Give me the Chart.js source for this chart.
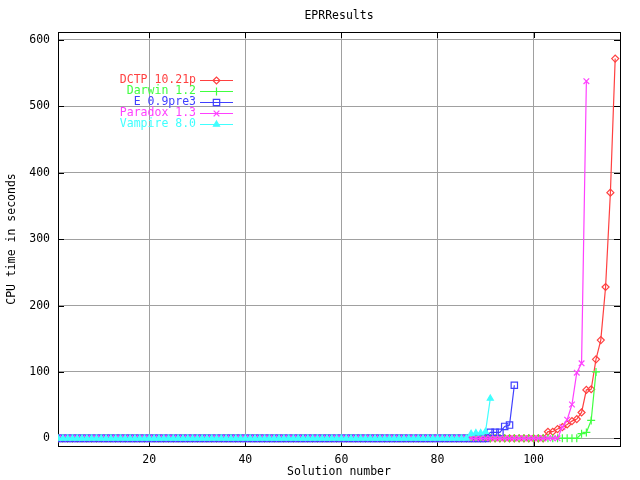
<!DOCTYPE html>
<html>
<head>
<meta charset="utf-8">
<title>EPRResults</title>
<script src="https://cdn.jsdelivr.net/npm/chart.js"></script>
<style>
  html, body { margin: 0; padding: 0; background: #fff; }
  #wrap { width: 640px; height: 480px; }
</style>
</head>
<body>
<div id="wrap"><canvas id="chart" width="640" height="480"></canvas></div>
<script>
// CPU time (s) per solution number, sorted; solution n is at index n-1
const dctpTimes = [
  0,0,0,0,0,0,0,0,0,0, 0,0,0,0,0,0,0,0,0,0,
  0,0,0,0,0,0,0,0,0,0, 0,0,0,0,0,0,0,0,0,0,
  0,0,0,0,0,0,0,0,0,0, 0,0,0,0,0,0,0,0,0,0,
  0,0,0,0,0,0,0,0,0,0, 0,0,0,0,0,0,0,0,0,0,
  0,0,0,0,0,0,0,0,0,0, 0,0,0,0,0,0,0,0,0,0,
  0,0,
  10, 10, 14, 17, 21, 26, 29, 39, 73, 74, 119, 148, 228, 370, 572
];
const darwinTimes = [
  0,0,0,0,0,0,0,0,0,0, 0,0,0,0,0,0,0,0,0,0,
  0,0,0,0,0,0,0,0,0,0, 0,0,0,0,0,0,0,0,0,0,
  0,0,0,0,0,0,0,0,0,0, 0,0,0,0,0,0,0,0,0,0,
  0,0,0,0,0,0,0,0,0,0, 0,0,0,0,0,0,0,0,0,0,
  0,0,0,0,0,0,0,0,0,0, 0,0,0,0,0,0,0,0,0,0,
  0,0,0,0,0,0,0,0,0,
  7, 9, 27, 100
];
const eTimes = [
  0,0,0,0,0,0,0,0,0,0, 0,0,0,0,0,0,0,0,0,0,
  0,0,0,0,0,0,0,0,0,0, 0,0,0,0,0,0,0,0,0,0,
  0,0,0,0,0,0,0,0,0,0, 0,0,0,0,0,0,0,0,0,0,
  0,0,0,0,0,0,0,0,0,0, 0,0,0,0,0,0,0,0,0,0,
  0,0,0,0,0,0,0,0,0,0,
  9, 9, 9, 18, 20, 80
];
const paradoxTimes = [
  0,0,0,0,0,0,0,0,0,0, 0,0,0,0,0,0,0,0,0,0,
  0,0,0,0,0,0,0,0,0,0, 0,0,0,0,0,0,0,0,0,0,
  0,0,0,0,0,0,0,0,0,0, 0,0,0,0,0,0,0,0,0,0,
  0,0,0,0,0,0,0,0,0,0, 0,0,0,0,0,0,0,0,0,0,
  0,0,0,0,0,0,0,0,0,0, 0,0,0,0,0,0,0,0,0,0,
  0,0,0,0,0,
  17, 28, 51, 99, 113, 538
];
const vampireTimes = [
  0,0,0,0,0,0,0,0,0,0, 0,0,0,0,0,0,0,0,0,0,
  0,0,0,0,0,0,0,0,0,0, 0,0,0,0,0,0,0,0,0,0,
  0,0,0,0,0,0,0,0,0,0, 0,0,0,0,0,0,0,0,0,0,
  0,0,0,0,0,0,0,0,0,0, 0,0,0,0,0,0,0,0,0,0,
  0,0,0,0,0,0,
  7, 8, 8, 10, 60
];

const solverNames = ["DCTP 10.21p", "Darwin 1.2", "E 0.9pre3", "Paradox 1.3", "Vampire 8.0"];
const solverTimes = [dctpTimes, darwinTimes, eTimes, paradoxTimes, vampireTimes];
const solverColors = ["#ff4040", "#40ff40", "#4040ff", "#ff40ff", "#40ffff"];
const solverMarkers = ["rectRot", "cross", "rect", "crossRot", "triangle"];
const markerSizes = [3.5, 4, 4.5, 4, 3.5];
const markerFills = ["rgba(0,0,0,0)", "rgba(0,0,0,0)", "rgba(0,0,0,0)", "rgba(0,0,0,0)", "#40ffff"];

const xTicks = [20, 40, 60, 80, 100];
const yTicks = [0, 100, 200, 300, 400, 500, 600];

const monoFont = { family: "'DejaVu Sans Mono', monospace", size: 11.5 };

const datasets = solverNames.map((name, i) => ({
  label: name,
  data: solverTimes[i].map((t, k) => ({ x: k + 1, y: t })),
  borderColor: solverColors[i],
  backgroundColor: markerFills[i],
  borderWidth: 1.2,
  pointStyle: solverMarkers[i],
  pointRadius: markerSizes[i],
  pointBorderWidth: 1.2,
  pointBorderColor: solverColors[i],
  pointBackgroundColor: markerFills[i],
  tension: 0,
  order: solverNames.length - i
}));

// gnuplot style box with mirrored inward ticks
const framePlugin = {
  id: "frame",
  beforeDatasetsDraw(chart) {
    const { ctx, chartArea: a, scales } = chart;
    ctx.save();
    ctx.strokeStyle = "#000";
    ctx.lineWidth = 1;
    ctx.beginPath();
    yTicks.forEach(v => {
      const py = Math.round(scales.y.getPixelForValue(v)) + 0.5;
      ctx.moveTo(a.left, py); ctx.lineTo(a.left + 6, py);
      ctx.moveTo(a.right, py); ctx.lineTo(a.right - 6, py);
    });
    xTicks.forEach(v => {
      const px = Math.round(scales.x.getPixelForValue(v)) + 0.5;
      ctx.moveTo(px, a.bottom); ctx.lineTo(px, a.bottom - 6);
      ctx.moveTo(px, a.top); ctx.lineTo(px, a.top + 6);
    });
    ctx.stroke();
    ctx.strokeRect(Math.round(a.left) + 0.5, Math.round(a.top) + 0.5,
      Math.round(a.right - a.left), Math.round(a.bottom - a.top));
    ctx.restore();
  }
};

// key inside the plot: right-aligned label, then a line sample with its marker
const keyPlugin = {
  id: "key",
  afterDraw(chart) {
    const { ctx, chartArea: a } = chart;
    ctx.save();
    ctx.font = monoFont.size + "px " + monoFont.family;
    ctx.textAlign = "right";
    ctx.textBaseline = "middle";
    chart.data.datasets.forEach((ds, i) => {
      const y = Math.round(a.top + 48 + i * 11) + 0.5;
      const textRight = a.left + 138;
      ctx.fillStyle = ds.borderColor;
      ctx.fillText(ds.label, textRight, y);
      ctx.strokeStyle = ds.borderColor;
      ctx.lineWidth = 1.2;
      ctx.beginPath();
      ctx.moveTo(textRight + 4, y);
      ctx.lineTo(textRight + 37, y);
      ctx.stroke();
      ctx.fillStyle = ds.pointBackgroundColor;
      Chart.helpers.drawPoint(ctx, {
        pointStyle: ds.pointStyle, radius: ds.pointRadius, rotation: 0, borderWidth: 1.2
      }, textRight + 20.5, y);
    });
    ctx.restore();
  }
};

new Chart(document.getElementById("chart"), {
  type: "line",
  data: { datasets },
  plugins: [framePlugin, keyPlugin],
  options: {
    responsive: false,
    animation: false,
    devicePixelRatio: 1,
    layout: { padding: { left: 0, right: 20, top: 0, bottom: 0 } },
    plugins: {
      legend: { display: false },
      tooltip: { enabled: false },
      title: {
        display: true,
        text: "EPRResults",
        color: "#000",
        fullSize: false,
        font: { family: monoFont.family, size: 11.5, weight: "normal" },
        padding: { top: 9, bottom: 9.2 }
      }
    },
    scales: {
      x: {
        type: "linear",
        min: 1,
        max: 118,
        afterFit: s => { s.height = 34; },
        afterBuildTicks: s => { s.ticks = xTicks.map(v => ({ value: v })); },
        ticks: { color: "#000", font: monoFont, padding: 7, maxRotation: 0 },
        grid: { color: "#a0a0a0", lineWidth: 1, drawTicks: false },
        border: { display: false },
        title: {
          display: true, text: "Solution number", color: "#000",
          font: monoFont, padding: { top: 0, bottom: 1 }
        }
      },
      y: {
        type: "linear",
        min: -11.5,
        max: 612,
        afterFit: s => { s.width = 58; },
        afterBuildTicks: s => { s.ticks = yTicks.map(v => ({ value: v })); },
        ticks: { color: "#000", font: monoFont, padding: 8 },
        grid: { color: "#a0a0a0", lineWidth: 1, drawTicks: false },
        border: { display: false },
        title: {
          display: true, text: "CPU time in seconds", color: "#000",
          font: monoFont, padding: { top: 5, bottom: 0 }
        }
      }
    }
  }
});
</script>
</body>
</html>
